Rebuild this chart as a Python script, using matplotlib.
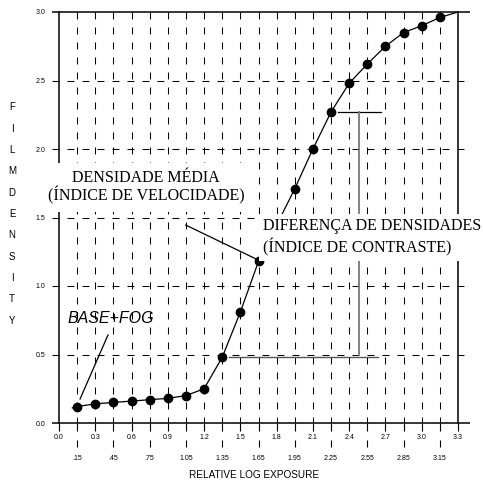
import matplotlib
matplotlib.use("Agg")
import matplotlib.pyplot as plt
import numpy as np

plt.rcParams['font.family'] = ['Liberation Sans', 'DejaVu Sans']
plt.rcParams['lines.scale_dashes'] = False

# ---- data ----
marker_x = [0.15, 0.30, 0.45, 0.60, 0.75, 0.90, 1.05, 1.20, 1.35, 1.50, 1.65,
            1.95, 2.10, 2.25, 2.40, 2.55, 2.70, 2.85, 3.00, 3.15]
marker_y = [0.12, 0.14, 0.15, 0.16, 0.17, 0.18, 0.20, 0.25, 0.48, 0.81, 1.18,
            1.71, 2.00, 2.27, 2.48, 2.62, 2.75, 2.85, 2.90, 2.96]
curve_start = (0.11, 0.11)
curve_end = (3.30, 3.00)

major_ticks = [0.0, 0.3, 0.6, 0.9, 1.2, 1.5, 1.8, 2.1, 2.4, 2.7, 3.0, 3.3]
major_labels = ["0.0", "0.3", "0.6", "0.9", "1.2", "1.5", "1.8", "2.1", "2.4",
                "2.7", "3.0", "3.3"]
minor_ticks = [0.15, 0.45, 0.75, 1.05, 1.35, 1.65, 1.95, 2.25, 2.55, 2.85, 3.15]
minor_labels = [".15", ".45", ".75", "1.05", "1.35", "1.65", "1.95", "2.25",
                "2.55", "2.85", "3.15"]
y_ticks = [0.0, 0.5, 1.0, 1.5, 2.0, 2.5, 3.0]
y_labels = ["0.0", "0.5", "1.0", "1.5", "2.0", "2.5", "3.0"]

xlabel = "RELATIVE LOG EXPOSURE"
ylabel = "FILMDENSITY"

# ---- figure ----
fig = plt.figure(figsize=(4.83, 4.80), dpi=100)
ax = fig.add_axes([59/483, 1-423/480, (458-59)/483, (423-12)/480])
ax.set_xlim(0, 3.3)
ax.set_ylim(0, 3.0)
for s in ['top', 'bottom']:
    ax.spines[s].set_visible(False)
for s in ['left', 'right']:
    ax.spines[s].set_linewidth(1.1)
    ax.spines[s].set_zorder(1)

gx = np.arange(0.15, 3.2, 0.15)
dash = (0, (5.0, 5.8))
ax.vlines(gx, 3.0, 0.0, colors='black', linewidth=0.75, linestyles=[dash], zorder=1)
ax.hlines(y_ticks[1:-1], -0.06, 3.40, colors='black', linewidth=0.75,
          linestyles=[dash], clip_on=False, zorder=1)
ax.hlines([y_ticks[0], y_ticks[-1]], -0.06, 3.40, colors='black', linewidth=1.1,
          clip_on=False, zorder=1)

# ticks
ax.set_xticks(major_ticks)
ax.set_xticklabels(major_labels)
ax.set_xticks(minor_ticks, minor=True)
ax.set_xticklabels(minor_labels, minor=True)
ax.tick_params(axis='x', which='major', direction='out', length=5.8, width=0.8,
               pad=1.8, labelsize=5)
ax.tick_params(axis='x', which='minor', direction='out', length=5.8, width=0.8,
               pad=17.5, labelsize=5)
ax.vlines(minor_ticks, -0.124, -0.175, colors='black', linewidth=0.8, clip_on=False)
ax.set_yticks(y_ticks)
ax.set_yticklabels(y_labels)
ax.tick_params(axis='y', length=0, pad=10, labelsize=5)

# curve
ax.plot([curve_start[0]] + marker_x + [curve_end[0]],
        [curve_start[1]] + marker_y + [curve_end[1]],
        color='black', linewidth=0.9, zorder=3)
ax.plot(marker_x, marker_y, 'o', color='black', markersize=6, zorder=4)

# bracket (contrast difference)
ax.plot([2.31, 2.66], [2.27, 2.27], color='black', linewidth=0.9, zorder=2)
ax.plot([2.485, 2.485], [2.27, 0.50], color='#777777', linewidth=1.3, zorder=2)
ax.plot([1.41, 2.64], [0.48, 0.48], color='#555555', linewidth=1.0, zorder=2)

# pointers
ax.plot([0.174, 0.405], [0.175, 0.642], color='black', linewidth=0.9, zorder=2)
ax.plot([1.048, 1.635], [1.445, 1.195], color='black', linewidth=0.9, zorder=2)

# annotations
ax.text(0.43, 0.76, "BASE+FOG", fontsize=11.5, style='italic', ha='center',
        va='center', zorder=5)
ax.text(0.72, 1.72, "DENSIDADE MÉDIA\n(ÍNDICE DE VELOCIDADE)", fontsize=11.5,
        family=['Liberation Serif', 'DejaVu Serif'], ha='center', va='center',
        linespacing=1.0, zorder=5, clip_on=False,
        bbox=dict(boxstyle='square,pad=0.45', fc='white', ec='none'))
ax.text(1.69, 1.354, "DIFERENÇA DE DENSIDADES\n(ÍNDICE DE CONTRASTE)", fontsize=11.5,
        family=['Liberation Serif', 'DejaVu Serif'], ha='left', va='center',
        linespacing=1.3, zorder=5, clip_on=False,
        bbox=dict(boxstyle='square,pad=0.25', fc='white', ec='none'))

# axis labels
fig.text(254/483, 1-475/480, xlabel, fontsize=7.2, ha='center', va='center')
fig.text(12/483, 1-214/480, "\n".join(ylabel), fontsize=7, ha='center', va='center',
         linespacing=2.42)

fig.savefig("out.png", dpi=100)
